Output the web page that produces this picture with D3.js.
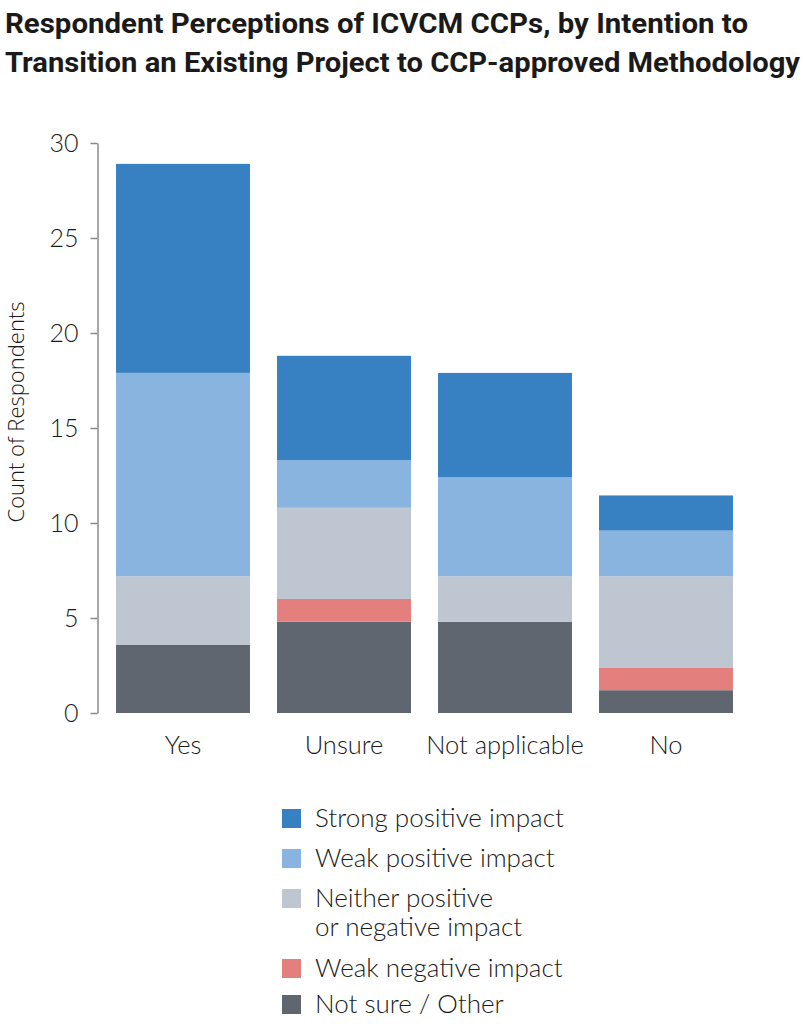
<!DOCTYPE html>
<html>
<head>
<meta charset="utf-8">
<script src="https://cdn.jsdelivr.net/npm/d3@7"></script>
<style>
  body { margin: 0; background: #fff; }
  text { fill: #1a1a1a; }
  .tick-label { font-family: Lato, "Open Sans", sans-serif; font-weight: 300; }
</style>
</head>
<body>
<div id="chart"></div>
<script>
// categories + series
const categories = ["Yes", "Unsure", "Not applicable", "No"];
const seriesKeys = ["notSure", "weakNeg", "neither", "weakPos", "strongPos"];
const notSure   = [3.6, 4.8, 4.8, 1.2];
const weakNeg   = [0,   1.2, 0,   1.2];
const neither   = [3.6, 4.8, 2.4, 4.8];
const weakPos   = [10.7, 2.5, 5.2, 2.4];
const strongPos = [11.0, 5.5, 5.5, 1.85];
const yTicks = [0, 5, 10, 15, 20, 25, 30];

const legendLabels = [
    ["Strong positive impact"],
    ["Weak positive impact"],
    ["Neither positive", "or negative impact"],
    ["Weak negative impact"],
    ["Not sure / Other"]
];
const legendKeys = ["strongPos", "weakPos", "neither", "weakNeg", "notSure"];

const colors = {
    strongPos: "#3781c3",
    weakPos: "#89b4df",
    neither: "#bdc6d1",
    weakNeg: "#e37f7d",
    notSure: "#5f6670"
};

const config = {
    width: 803,
    height: 1024
};

const rows = categories.map((c, i) => ({
    cat: c,
    notSure: notSure[i],
    weakNeg: weakNeg[i],
    neither: neither[i],
    weakPos: weakPos[i],
    strongPos: strongPos[i]
}));

const svg = d3.select("#chart").append("svg")
    .attr("width", config.width)
    .attr("height", config.height);

// title
const title = svg.append("g").attr("class", "title");
title.append("text")
    .attr("x", 5).attr("y", 33)
    .attr("textLength", 743).attr("lengthAdjust", "spacingAndGlyphs")
    .style("font-family", "Roboto, sans-serif")
    .style("font-weight", 700)
    .style("font-size", "28px")
    .text("Respondent Perceptions of ICVCM CCPs, by Intention to");
title.append("text")
    .attr("x", 5).attr("y", 72)
    .attr("textLength", 795).attr("lengthAdjust", "spacingAndGlyphs")
    .style("font-family", "Roboto, sans-serif")
    .style("font-weight", 700)
    .style("font-size", "28px")
    .text("Transition an Existing Project to CCP-approved Methodology");

const scale = {
    x: d3.scaleBand().domain(categories).range([102.5, 746.5])
        .paddingInner(0.168).paddingOuter(0.084),
    y: d3.scaleLinear().domain([0, 30]).range([713, 143])
};

const stack = d3.stack().keys(seriesKeys)(rows);

svg.append("g").selectAll("g")
    .data(stack)
    .join("g")
    .attr("fill", d => colors[d.key])
    .selectAll("rect")
    .data(d => d.filter(s => s[1] - s[0] > 0))
    .join("rect")
    .attr("x", d => scale.x(d.data.cat))
    .attr("width", scale.x.bandwidth())
    .attr("y", d => scale.y(d[1]))
    .attr("height", d => scale.y(d[0]) - scale.y(d[1]));

// y axis
const yAxis = svg.append("g")
    .attr("transform", "translate(97.5,0)")
    .call(d3.axisLeft(scale.y).tickValues(yTicks).tickSize(7).tickSizeOuter(0).tickPadding(12));
yAxis.select(".domain").attr("stroke", "#8a8a8a").attr("stroke-width", 1.5);
yAxis.selectAll(".tick line").attr("stroke", "#8a8a8a").attr("stroke-width", 1.5);
yAxis.selectAll(".tick text")
    .attr("class", "tick-label")
    .style("font-size", "25px")
    .attr("dy", "0.32em")
    .attr("fill", "#1a1a1a");

svg.append("text")
    .attr("transform", "translate(24,412) rotate(-90)")
    .attr("text-anchor", "middle")
    .style("font-family", "'Open Sans', sans-serif")
    .style("font-weight", 300)
    .style("font-size", "22px")
    .text("Count of Respondents");

// x labels
svg.append("g").selectAll("text")
    .data(categories)
    .join("text")
    .attr("class", "tick-label")
    .attr("x", d => scale.x(d) + scale.x.bandwidth() / 2)
    .attr("y", 754)
    .attr("text-anchor", "middle")
    .style("font-size", "25.5px")
    .text(d => d);

// legend
let ly = 809;
const legend = svg.append("g");
legendKeys.forEach((k, i) => {
    const lines = legendLabels[i];
    const g = legend.append("g").attr("transform", `translate(282,${ly})`);
    g.append("rect").attr("width", 19).attr("height", 19).attr("fill", colors[k]);
    lines.forEach((t, j) => {
        g.append("text")
            .attr("class", "tick-label")
            .attr("x", 33).attr("y", 18 + j * 29)
            .style("font-size", "26px")
            .text(t);
    });
    ly += (i === 3 ? 36 : 40) + (lines.length - 1) * 30;
});
</script>
</body>
</html>
